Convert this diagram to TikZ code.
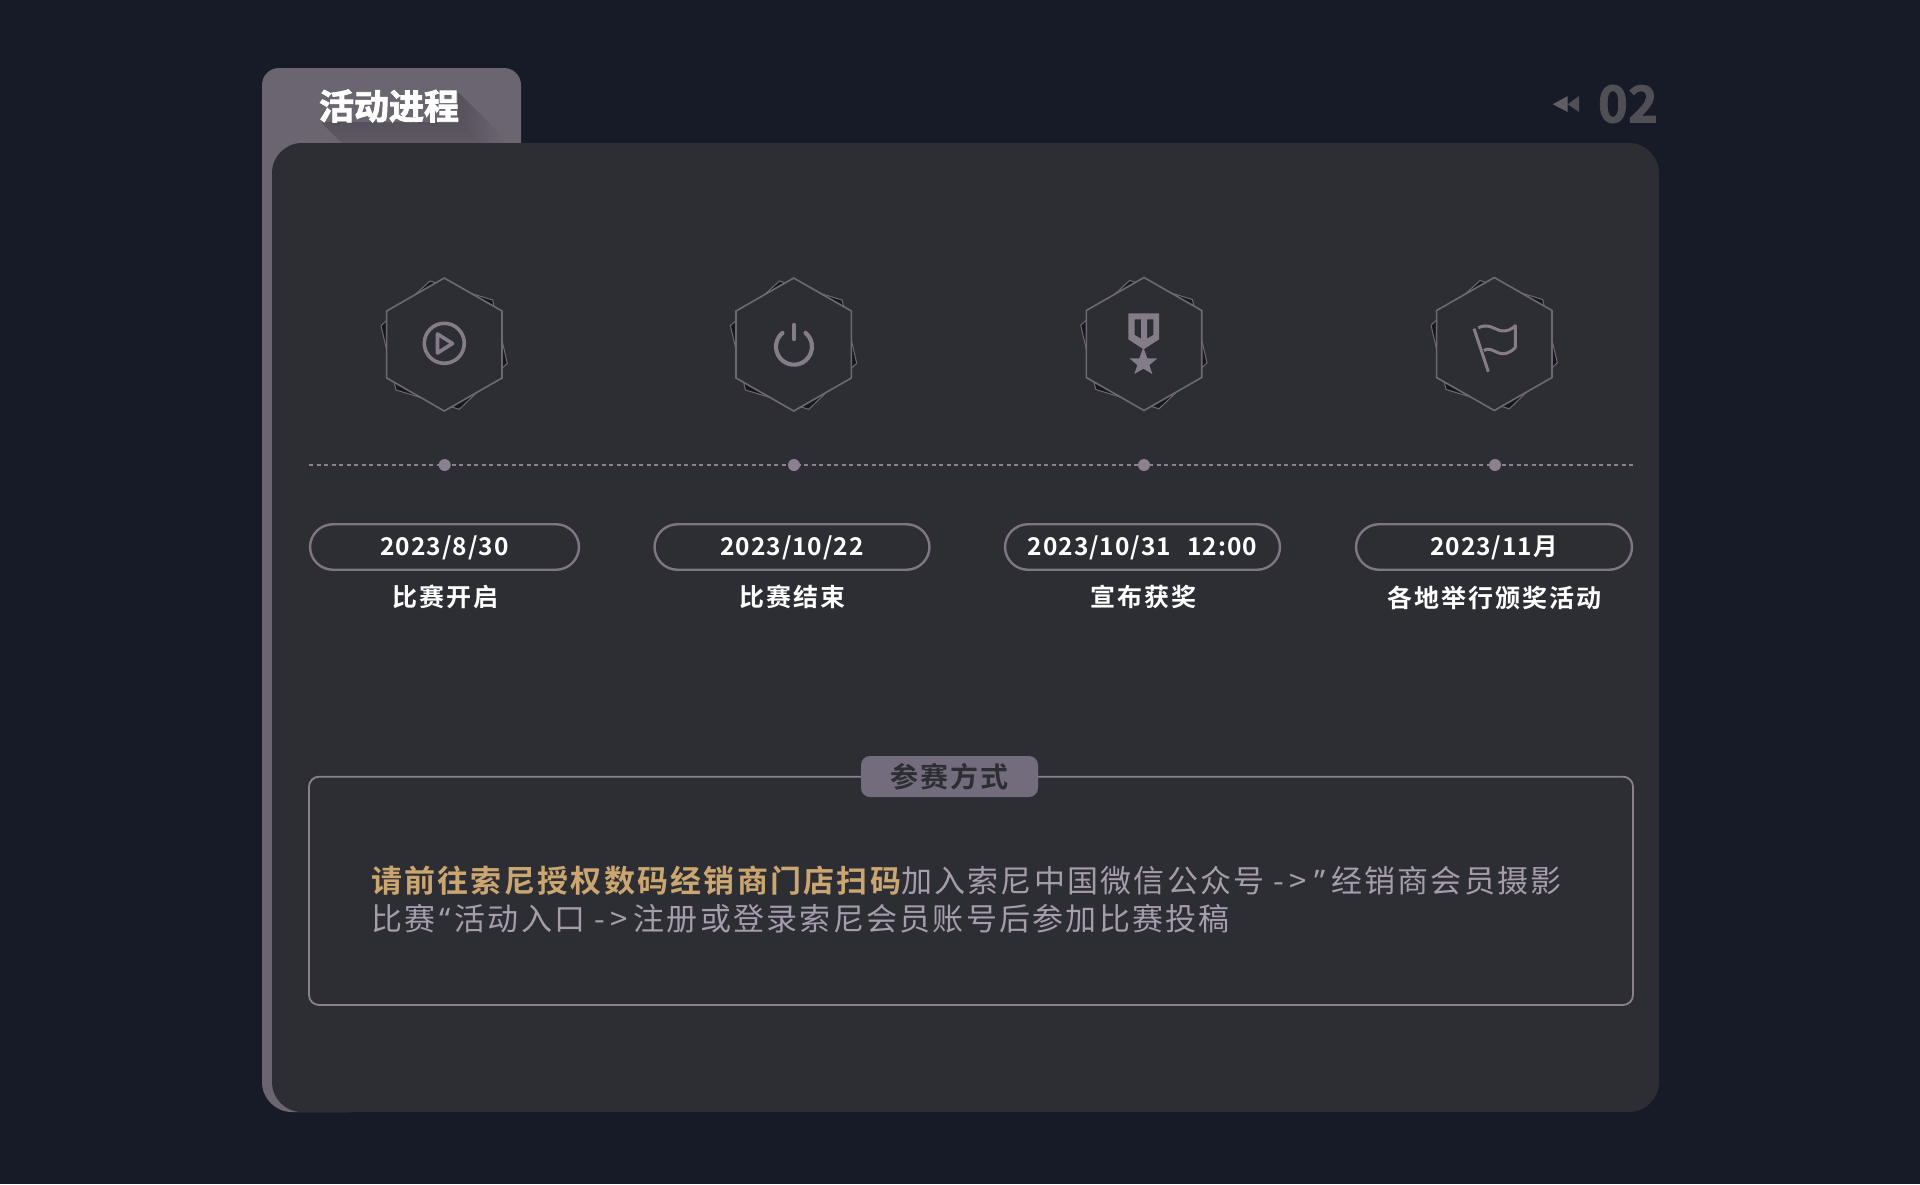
\documentclass[tikz,border=0pt]{standalone}
\usepackage{fontspec}
\setmainfont{Noto Sans CJK SC}
\newfontfamily\cjkbody[LetterSpace=7.3]{Noto Sans CJK SC}
\newfontfamily\cjkbodyb[LetterSpace=7.3]{Noto Sans CJK SC Bold}
\newfontfamily\cjklabel[LetterSpace=8]{Noto Sans CJK SC Bold}
\newfontfamily\cjktag[LetterSpace=8]{Noto Sans CJK SC Bold}
\newfontfamily\latinnum[LetterSpace=4]{Noto Sans CJK SC Bold}
\newfontfamily\pagefont[FakeBold=1.5]{Noto Sans CJK SC Bold}
\newfontfamily\quotefont{Noto Sans}
\newfontfamily\titlefont[FakeBold=2.5]{Noto Sans CJK SC Bold}
\definecolor{bgc}{HTML}{171A27}
\definecolor{panelc}{HTML}{2D2E33}
\definecolor{tabc}{HTML}{6B6570}
\definecolor{tabd}{HTML}{55505A}
\definecolor{linec}{HTML}{6E6874}
\definecolor{iconc}{HTML}{857C8A}
\definecolor{dotc}{HTML}{8A8090}
\definecolor{darkhex}{HTML}{16171E}
\definecolor{goldc}{HTML}{CBA671}
\definecolor{bodyc}{HTML}{A59CAC}
\definecolor{numc}{HTML}{4F4F55}
\definecolor{tria}{HTML}{5F5F63}
\definecolor{pillc}{HTML}{7F7685}
\definecolor{boxc}{HTML}{8A8090}
\definecolor{tagc}{HTML}{736C7C}
\tikzset{
  x=1pt,y=-1pt,
  hexfront/.style={draw=linec,line width=1.6pt},
  hexback/.style={draw=linec,line width=1pt,fill=darkhex},
  iconline/.style={draw=iconc,line width=3.6pt,line cap=round,line join=round},
  pillbox/.style={draw=pillc,line width=2.4pt,rounded corners=23pt,fill=panelc,minimum height=45.5pt,inner sep=0pt},
  pilltext/.style={text=white,font=\fontsize{24.5}{28}\selectfont\latinnum,inner sep=0pt,anchor=center},
  steplabel/.style={text=white,font=\fontsize{25}{28}\selectfont\cjklabel,inner sep=0pt,anchor=center},
  dotnode/.style={circle,fill=dotc,inner sep=0pt,minimum size=12pt},
}
\newcommand{\hexpair}[2]{%
  \begin{scope}[shift={(#1,#2)}]
    \draw[hexback] (-14.3,-63.5) -- (48.4,-44.5) -- (63,18.8) -- (15,64.8) -- (-48.3,45.5) -- (-63.3,-18.8) -- cycle;
    \draw[hexfront,fill=panelc] (0,-66.5) -- (57.7,-33.5) -- (57.7,33.5) -- (0,66.5) -- (-57.7,33.5) -- (-57.7,-33.5) -- cycle;
  \end{scope}}
\begin{document}
\begin{tikzpicture}
\useasboundingbox (0,0) rectangle (1920,1184);
\fill[bgc] (0,0) rectangle (1920,1184);
% tab and back layer
\fill[tabc] (262,170) [rounded corners=17pt] -- (262,68) -- (521,68) [sharp corners] -- (521,170) -- cycle;
\fill[tabc,rounded corners=30pt] (262,130) rectangle (380,1112);
% long shadow of the title, built from the far end towards the text
\foreach \s in {46,43,...,1}{
  \pgfmathsetmacro{\p}{100*(1-\s/48)}
  \fill[tabd!\p!tabc] (458,93) -- (458+\s,93+\s) -- (458+\s,122+\s) -- (322+\s,122+\s) -- (322,122) -- (458,122) -- cycle;
}
\fill[panelc,rounded corners=30pt] (272,143) rectangle (1659,1112);
\node[text=white,font=\fontsize{35}{40}\selectfont\titlefont,inner sep=0pt] (title) at (389,106) {活动进程};
% page number
\fill[tria] (1552.7,104.3) -- (1567.7,96) -- (1567.7,112) -- cycle;
\fill[numc] (1567.7,104.3) -- (1579,96) -- (1579,112) -- cycle;
\node[text=numc,font=\fontsize{51}{56}\selectfont\pagefont,inner sep=0pt] (page) at (1628,104) {02};
% timeline
\coordinate (tl) at (309,465);
\coordinate (tr) at (1633,465);
\draw[dotc,line width=1.4pt,dash pattern=on 4pt off 3.5pt] (tl) -- (tr);
\node[dotnode] (d1) at (444.7,465) {};
\node[dotnode] (d2) at (794,465) {};
\node[dotnode] (d3) at (1144,465) {};
\node[dotnode] (d4) at (1495,465) {};
% hexagons
\hexpair{444.3}{344.5}
\hexpair{793.7}{344.5}
\hexpair{1144}{344}
\hexpair{1494.3}{344}
% play
\draw[iconline] (444.3,343.3) circle (20);
\draw[iconline] (437.5,334) -- (437.5,353) -- (452.5,343.5) -- cycle;
% power
\draw[iconline,line width=4.2pt,line cap=round] (782.43,332.9) arc[start angle=230,end angle=-50,radius=18];
\draw[iconline,line width=4.2pt] (794,325) -- (794,339);
% medal
\begin{scope}[shift={(1060,260)},x=1pt/3,y=-1pt/3]
\fill[iconc,even odd rule] (205,160) -- (297,160) -- (297,238) -- (251,268) -- (205,238) -- cycle
  (224,178) -- (243,178) -- (243,236) -- (224,225) -- cycle
  (261,178) -- (280,178) -- (280,225) -- (261,236) -- cycle;
\fill[iconc] (250,262) -- (262,295) -- (292,295) -- (268,315) -- (277,342) -- (250,326) -- (223,342) -- (232,315) -- (208,295) -- (238,295) -- cycle;
\end{scope}
% flag
\begin{scope}[shift={(1410,260)},x=1pt/3,y=-1pt/3]
\draw[iconc,line width=3pt] (192,206) -- (235,335);
\draw[iconc,line width=3pt,line join=round] (205,203) .. controls (235,190) and (250,205) .. (270,212) .. controls (290,216) and (305,208) .. (316,197) -- (316,262) .. controls (300,280) and (280,288) .. (255,274) .. controls (240,266) and (228,266) .. (222,272);
\end{scope}
% pills
\node[pillbox,minimum width=269pt] (p1) at (444.5,547) {};
\node[pillbox,minimum width=275pt] (p2) at (792,547) {};
\node[pillbox,minimum width=275pt] (p3) at (1142.5,547) {};
\node[pillbox,minimum width=276pt] (p4) at (1494,547) {};
\node[pilltext] (pt1) at (444.5,548) {2023/8/30};
\node[pilltext] (pt2) at (792,548) {2023/10/22};
\node[pilltext] (pt3) at (1142.5,548) {2023/10/31\hspace{0.4em} 12:00};
\node[pilltext] (pt4) at (1494,548) {2023/11月};
\node[steplabel] (l1) at (445,597) {比赛开启};
\node[steplabel] (l2) at (792,597) {比赛结束};
\node[steplabel] (l3) at (1143,597) {宣布获奖};
\node[steplabel] (l4) at (1494,598) {各地举行颁奖活动};
% box
\draw[boxc,line width=1.8pt,rounded corners=10pt,fill=panelc] (309,776.7) rectangle (1633,1005);
\node[fill=tagc,rounded corners=9pt,minimum width=177pt,minimum height=41pt,inner sep=0pt,text=panelc,font=\fontsize{28}{30}\selectfont\cjktag] (tag) at (949.5,776.5) {参赛方式};
\node[anchor=north west,align=left,inner sep=0pt,text=bodyc,font=\fontsize{31}{38}\selectfont\cjkbody] (body) at (371,866) {\textcolor{goldc}{\cjkbodyb 请前往索尼授权数码经销商门店扫码}加入索尼中国微信公众号 -\kern5pt>\kern8pt{\quotefont ”}\kern5pt 经销商会员摄影\\比赛\kern4pt{\quotefont “}\kern4pt 活动入口 -\kern5pt>\kern6pt 注册或登录索尼会员账号后参加比赛投稿};
\end{tikzpicture}
\end{document}
